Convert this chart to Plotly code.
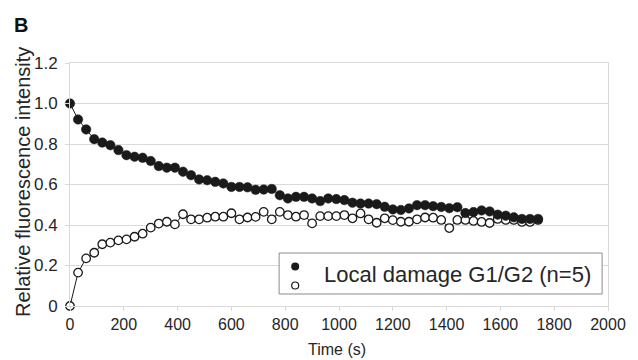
import plotly.graph_objects as go

time_s = [0, 30, 60, 90, 120, 150, 180, 210, 240, 270,
          300, 330, 360, 390, 420, 450, 480, 510, 540, 570,
          600, 630, 660, 690, 720, 750, 780, 810, 840, 870,
          900, 930, 960, 990, 1020, 1050, 1080, 1110, 1140, 1170,
          1200, 1230, 1260, 1290, 1320, 1350, 1380, 1410, 1440, 1470,
          1500, 1530, 1560, 1590, 1620, 1650, 1680, 1710, 1740]

filled_vals = [1.00, 0.921, 0.872, 0.824, 0.807, 0.794, 0.770, 0.745, 0.737, 0.732,
               0.716, 0.691, 0.683, 0.683, 0.663, 0.646, 0.625, 0.621, 0.613, 0.605,
               0.588, 0.588, 0.586, 0.574, 0.575, 0.578, 0.547, 0.531, 0.539, 0.539,
               0.531, 0.518, 0.531, 0.528, 0.523, 0.510, 0.506, 0.506, 0.503, 0.490,
               0.477, 0.474, 0.482, 0.498, 0.498, 0.493, 0.489, 0.483, 0.488, 0.459,
               0.464, 0.472, 0.467, 0.451, 0.446, 0.438, 0.430, 0.430, 0.430]

open_vals = [0.0, 0.165, 0.235, 0.263, 0.305, 0.313, 0.324, 0.329, 0.342, 0.357,
             0.387, 0.407, 0.416, 0.403, 0.453, 0.428, 0.428, 0.436, 0.441, 0.441,
             0.458, 0.428, 0.437, 0.440, 0.465, 0.428, 0.465, 0.449, 0.441, 0.449,
             0.408, 0.444, 0.444, 0.444, 0.449, 0.433, 0.457, 0.428, 0.411, 0.433,
             0.424, 0.416, 0.416, 0.428, 0.437, 0.436, 0.425, 0.385, 0.425, 0.425,
             0.420, 0.415, 0.410, 0.430, 0.425, 0.425, 0.415, 0.415, 0.425]

x_ticks = [0, 200, 400, 600, 800, 1000, 1200, 1400, 1600, 1800, 2000]
y_ticks = [0, 0.2, 0.4, 0.6, 0.8, 1.0, 1.2]
y_tick_text = ["0", "0.2", "0.4", "0.6", "0.8", "1.0", "1.2"]

legend_label = "Local damage G1/G2 (n=5)"
panel_label = "B"
x_title = "Time (s)"
y_title = "Relative fluorescence intensity"

FONT = "Liberation Sans, Arial, sans-serif"
INK = "#1a1a1a"
GRID = "#d9d9d9"

fig = go.Figure()

fig.add_trace(go.Scatter(
    x=time_s, y=open_vals, mode="lines+markers",
    line=dict(color=INK, width=1),
    marker=dict(symbol="circle", size=8.5, color="white", line=dict(color=INK, width=1.3)),
    cliponaxis=False, showlegend=False))

fig.add_trace(go.Scatter(
    x=time_s, y=filled_vals, mode="lines+markers",
    line=dict(color=INK, width=1),
    marker=dict(symbol="circle", size=9.5, color=INK, line=dict(color=INK, width=0.5)),
    cliponaxis=False, showlegend=False))

# legend symbols
fig.add_trace(go.Scatter(
    x=[None], y=[None], mode="markers", name=" ",
    marker=dict(symbol="circle", size=8, color=INK)))
fig.add_trace(go.Scatter(
    x=[None], y=[None], mode="markers", name=" ",
    marker=dict(symbol="circle", size=7, color="white", line=dict(color=INK, width=1.2))))

W, H = 638, 360
ml, mr, mt, mb = 70, 20, 63, 54
pw, ph = W - ml - mr, H - mt - mb

def px_x(p):
    return (p - ml) / pw

def px_y(p):
    return (H - mb - p) / ph

fig.update_layout(
    width=W, height=H,
    margin=dict(l=ml, r=mr, t=mt, b=mb, pad=0),
    paper_bgcolor="white", plot_bgcolor="white",
    font=dict(family=FONT, color=INK),
    xaxis=dict(
        range=[0, 2000], tickvals=x_ticks, ticks="outside", ticklen=4, tickcolor=GRID,
        showgrid=False, showline=True, linecolor=GRID, linewidth=1, mirror=True,
        zeroline=False, tickfont=dict(size=16, family=FONT, color="#262626")),
    yaxis=dict(
        range=[0, 1.2], tickvals=y_ticks, ticktext=y_tick_text, ticks="outside", ticklen=4,
        tickcolor=GRID, showgrid=True, gridcolor=GRID, gridwidth=1,
        showline=True, linecolor=GRID, linewidth=1, mirror=True,
        zeroline=False, ticklabelstandoff=4,
        tickfont=dict(size=17, family=FONT, color="#262626")),
    showlegend=True,
    legend=dict(
        x=px_x(279), y=px_y(252), xanchor="left", yanchor="top",
        bgcolor="rgba(0,0,0,0)", borderwidth=0,
        font=dict(size=10, family=FONT), tracegroupgap=0, itemwidth=30),
    shapes=[dict(
        type="rect", xref="paper", yref="paper",
        x0=px_x(283), x1=px_x(612), y0=px_y(294), y1=px_y(253),
        line=dict(color="#8c8c8c", width=1), fillcolor="white", layer="above")],
    annotations=[
        dict(text=panel_label, xref="paper", yref="paper", x=px_x(11), y=px_y(25),
             xanchor="left", yanchor="middle", showarrow=False,
             font=dict(size=20, family=FONT, color="#111111", weight="bold")),
        dict(text=y_title, xref="paper", yref="paper", x=px_x(22), y=px_y(182),
             xanchor="center", yanchor="middle", textangle=-90, showarrow=False,
             font=dict(size=20, family=FONT, color="#262626")),
        dict(text=x_title, xref="paper", yref="paper", x=px_x(342), y=px_y(349),
             xanchor="center", yanchor="middle", showarrow=False,
             font=dict(size=16, family=FONT, color="#262626")),
        dict(text=legend_label, xref="paper", yref="paper", x=px_x(327), y=px_y(274),
             xanchor="left", yanchor="middle", showarrow=False,
             font=dict(size=22, family=FONT, color="#262626")),
    ],
)

fig.write_html("out.html",
               config={"displayModeBar": False},
               post_script="document.body.style.margin='0';document.body.style.padding='0';")
